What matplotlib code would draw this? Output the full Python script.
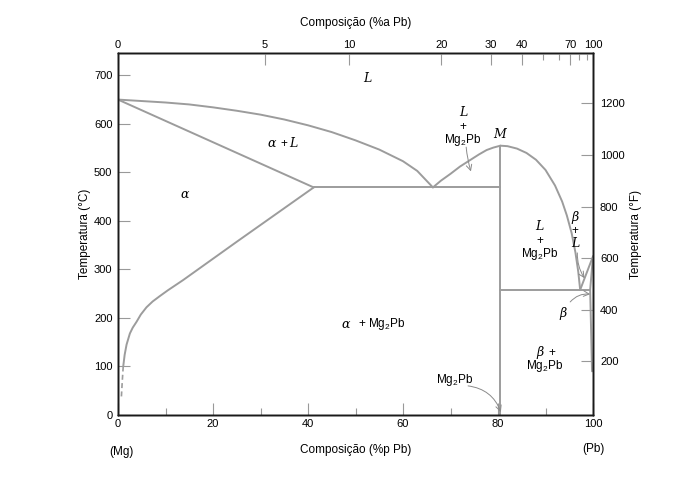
import matplotlib
matplotlib.use("Agg")
import matplotlib.pyplot as plt
import numpy as np

plt.rcParams['font.family'] = ['Liberation Sans', 'DejaVu Sans']
plt.rcParams['mathtext.fontset'] = 'custom'
plt.rcParams['mathtext.rm'] = 'Liberation Sans'
plt.rcParams['mathtext.it'] = 'Liberation Sans:italic'

# ---------------- data (wt% Pb, degC) ----------------
liq_left_x = [0, 5, 10, 15, 20, 25, 30, 35, 40, 45, 50, 55, 60, 63, 66.3]
liq_left_t = [650, 647, 644, 640, 634, 627, 619, 609, 597, 583, 566, 547, 523, 503, 469]
solidus_x = [0, 41.2]
solidus_t = [650, 469]
solvus_x = [41.2, 25, 13.7, 10.5, 8.8, 7.3, 6.0, 4.8, 3.9, 3.1, 2.5, 1.8, 1.4, 1.1]
solvus_t = [469, 357, 278, 257, 245, 234, 222, 207, 192, 180, 168, 145, 124, 100]
solvus_dash_x = [1.1, 0.9, 0.7]
solvus_dash_t = [100, 70, 35]
liq_mid_x = [66.3, 68, 70, 72, 74.4, 76, 77.6, 79, 80.5]
liq_mid_t = [469, 483, 497, 512, 527, 537, 546, 551, 555]
liq_right_x = [80.5, 82, 84, 86, 88, 90, 92, 93.5, 94.5, 95.5, 96.3, 96.9, 97.3]
liq_right_t = [555, 554, 549, 540, 526, 505, 473, 440, 411, 375, 335, 295, 258]
mg2pb_x = [80.5, 80.5]
mg2pb_t = [0, 555]
eut1_x = [41.2, 80.5]
eut1_t = [469, 469]
eut2_x = [80.5, 99.4]
eut2_t = [258, 258]
pb_liq_x = [97.3, 100]
pb_liq_t = [258, 327]
pb_sol_x = [99.4, 100]
pb_sol_t = [258, 327]
pb_solvus_x = [99.4, 99.8]
pb_solvus_t = [258, 90]

bottom_ticks = [0, 20, 40, 60, 80, 100]
left_ticks = [0, 100, 200, 300, 400, 500, 600, 700]
right_ticks = [200, 400, 600, 800, 1000, 1200]
top_major_at = [0, 5, 10, 20, 30, 40, 70, 100]
top_minor_at = [50, 60, 80, 90]

def at_to_wt(a):
    a = np.asarray(a, dtype=float)
    return 100 * a * 207.2 / (a * 207.2 + (100 - a) * 24.305)

# ---------------- figure ----------------
fig = plt.figure(figsize=(6.92, 4.96), dpi=100)
ax = fig.add_axes([118/692, 1-415/496, (593-118)/692, (415-53)/496])
ax.set_xlim(0, 100)
ax.set_ylim(0, 746)

lc = '#9c9c9c'
lw = 1.4
for xs, ts in [(liq_left_x, liq_left_t), (solidus_x, solidus_t), (solvus_x, solvus_t),
               (liq_mid_x, liq_mid_t), (liq_right_x, liq_right_t), (mg2pb_x, mg2pb_t),
               (eut1_x, eut1_t), (eut2_x, eut2_t), (pb_liq_x, pb_liq_t),
               (pb_sol_x, pb_sol_t), (pb_solvus_x, pb_solvus_t)]:
    ax.plot(xs, ts, color=lc, lw=lw, solid_capstyle='round', solid_joinstyle='round')
ax.plot(solvus_dash_x, solvus_dash_t, color=lc, lw=1.2, ls=(0, (3, 2)))

for s in ax.spines.values():
    s.set_color('#1a1a1a')
    s.set_linewidth(1.0)

tc = '#999999'
ax.set_xticks(bottom_ticks)
ax.set_xticks(np.arange(10, 100, 10), minor=True)
ax.set_yticks(left_ticks)
ax.tick_params(axis='x', which='major', direction='in', length=8.5, width=0.8, color=tc,
               labelsize=8, pad=3)
ax.tick_params(axis='x', which='minor', direction='in', length=5, width=0.8, color=tc)
ax.tick_params(axis='y', which='major', direction='in', length=8.5, width=0.8, color=tc,
               labelsize=8, pad=4)
ax.set_xlabel('Composição (%p Pb)', fontsize=8.5, labelpad=11)
ax.set_ylabel('Temperatura (°C)', fontsize=8.5, labelpad=2)

# right axis (degF)
axr = ax.twinx()
axr.set_ylim(-7.3, 1395)
axr.set_yticks(right_ticks)
axr.tick_params(axis='y', direction='in', length=8.5, width=0.8, color=tc, labelsize=8, pad=5)
axr.set_ylabel('Temperatura (°F)', fontsize=8.5, labelpad=4)
for s in axr.spines.values():
    s.set_color('#1a1a1a')
    s.set_linewidth(1.0)

# top axis (at%)
axt = ax.twiny()
axt.set_xlim(0, 100)
axt.set_xticks(at_to_wt(top_major_at))
axt.set_xticklabels([str(v) for v in top_major_at])
axt.set_xticks(at_to_wt(top_minor_at), minor=True)
axt.tick_params(axis='x', which='major', direction='in', length=8.5, width=0.8, color=tc,
                labelsize=8, pad=2)
axt.tick_params(axis='x', which='minor', direction='in', length=5, width=0.8, color=tc)
axt.set_xlabel('Composição (%a Pb)', fontsize=8.5, labelpad=10)
for s in axt.spines.values():
    s.set_color('#1a1a1a')
    s.set_linewidth(1.0)

fig.text(121/692, 1-452/496, '(Mg)', fontsize=8.5, ha='center', va='center')
fig.text(593/692, 1-449/496, '(Pb)', fontsize=8.5, ha='center', va='center')

# ---------------- region labels ----------------
serif = dict(family=['DejaVu Serif'], style='italic', fontsize=9)
sans = dict(fontsize=8.5)
ax.text(52.4, 693, 'L', ha='center', va='center', **serif)
ax.text(32.4, 559, 'α', ha='center', va='center', **serif)
ax.text(34.9, 559, '+', ha='center', va='center', fontsize=8.5)
ax.text(37.0, 559, 'L', ha='center', va='center', **serif)
ax.text(14.1, 454, 'α', ha='center', va='center', **serif)
ax.text(48.0, 187, 'α', ha='center', va='center', **serif)
ax.text(50.6, 187, '+ Mg$_2$Pb', ha='left', va='center', **sans)
ax.text(72.6, 623, 'L', ha='center', va='center', **serif)
ax.text(72.6, 594, '+', ha='center', va='center', **sans)
ax.text(72.6, 567, 'Mg$_2$Pb', ha='center', va='center', **sans)
ax.text(80.4, 578, 'M', ha='center', va='center', **serif)
ax.text(88.8, 389, 'L', ha='center', va='center', **serif)
ax.text(88.8, 359, '+', ha='center', va='center', **sans)
ax.text(88.8, 331, 'Mg$_2$Pb', ha='center', va='center', **sans)
ax.text(96.2, 407, 'β', ha='center', va='center', **serif)
ax.text(96.2, 379, '+', ha='center', va='center', **sans)
ax.text(96.2, 353, 'L', ha='center', va='center', **serif)
ax.text(93.6, 210, 'β', ha='center', va='center', **serif)
ax.text(88.9, 128, 'β', ha='center', va='center', **serif)
ax.text(91.3, 128, '+', ha='center', va='center', **sans)
ax.text(89.9, 100, 'Mg$_2$Pb', ha='center', va='center', **sans)
ax.text(70.9, 73, 'Mg$_2$Pb', ha='center', va='center', **sans)

ap = dict(arrowstyle='->', color='#8a8a8a', lw=0.7, shrinkA=0, shrinkB=0)
ax.annotate('', xy=(74.3, 502), xytext=(73.3, 552),
            arrowprops=dict(ap, connectionstyle='arc3,rad=0.05'))
ax.annotate('', xy=(98.2, 282), xytext=(96.7, 334),
            arrowprops=dict(ap, connectionstyle='arc3,rad=0.15'))
ax.annotate('', xy=(99.4, 249), xytext=(95.2, 233),
            arrowprops=dict(ap, connectionstyle='arc3,rad=-0.25'))
ax.annotate('', xy=(80.6, 6), xytext=(73.7, 60),
            arrowprops=dict(ap, connectionstyle='arc3,rad=-0.3'))

fig.savefig('out.png', dpi=100)
